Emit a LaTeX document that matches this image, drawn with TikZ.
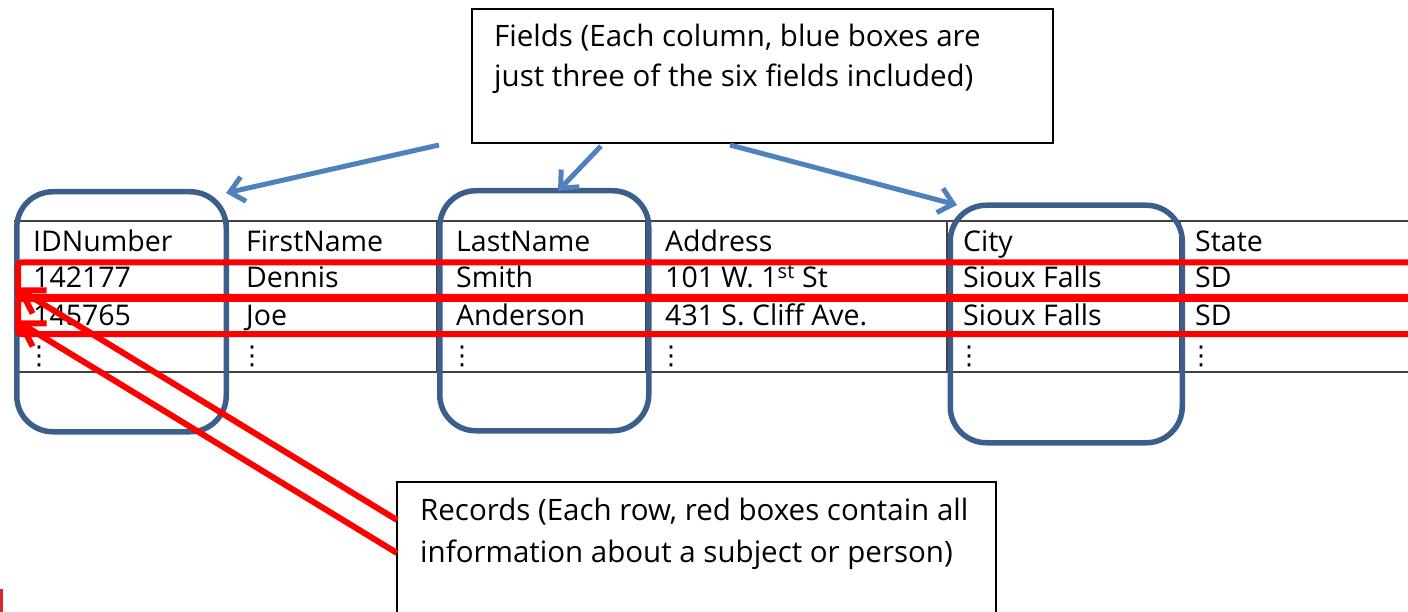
\documentclass[tikz,border=0pt]{standalone}
\usepackage{fontspec}
\setmainfont{Open Sans}
\newfontfamily\dotsfont{DejaVu Sans}
\usetikzlibrary{arrows.meta}
\definecolor{boxblue}{HTML}{3B5E8C}
\definecolor{arrowblue}{HTML}{4F81BD}
\definecolor{markred}{HTML}{D42A2A}
\begin{document}
\begin{tikzpicture}[x=1pt,y=-1pt,
  cell/.style={anchor=base west, inner sep=0pt, font=\fontsize{28.5}{34}\selectfont},
  notetext/.style={anchor=base west, inner sep=0pt, font=\fontsize{29.5}{34}\selectfont},
  vdot/.style={anchor=base west, inner sep=0pt, font=\dotsfont\fontsize{26}{30}\selectfont},
  note/.style={draw=black, line width=2pt, anchor=north west, inner sep=0pt, fill=white},
  fieldbox/.style={draw=boxblue, line width=5.5pt, rounded corners=36pt, anchor=north west, inner sep=0pt},
  recbox/.style={draw=red, line width=6pt, rounded corners=3pt, anchor=north west, inner sep=0pt},
  bluearrow/.style={draw=arrowblue, line width=5pt, -{Straight Barb[length=14pt,width=25pt]}},
  redarrow/.style={draw=red, line width=6pt, -{Straight Barb[length=22pt,width=27pt]}},
  rulestyle/.style={draw=black!75, line width=1.3pt}]
\useasboundingbox (0,0) rectangle (1408,612);
\clip (0,0) rectangle (1408,612);

% table rules
\coordinate (tl) at (14,221);
\coordinate (tr) at (1408,221);
\coordinate (bl) at (14,372);
\coordinate (br) at (1408,372);
\draw[rulestyle] (tl) -- (tr);
\draw[rulestyle] (bl) -- (br);
\foreach \x/\n in {228/a,437/b,646/c,947/d,1180/e}{
  \coordinate (s\n t) at (\x,221);
  \coordinate (s\n b) at (\x,372);
  \draw[rulestyle] (s\n t) -- (s\n b);
}

% table text
\node[cell] (h1) at (33,252) {IDNumber};
\node[cell] (h2) at (246,252) {FirstName};
\node[cell] (h3) at (456,252) {LastName};
\node[cell] (h4) at (665,252) {Address};
\node[cell] (h5) at (963,252) {City};
\node[cell] (h6) at (1195,252) {State};

\node[cell] (r11) at (33,288) {142177};
\node[cell] (r12) at (246,288) {Dennis};
\node[cell] (r13) at (456,288) {Smith};
\node[cell] (r14) at (665,288) {101 W. 1\textsuperscript{st} St};
\node[cell] (r15) at (963,288) {Sioux Falls};
\node[cell] (r16) at (1195,288) {SD};

\node[cell] (r21) at (33,326) {145765};
\node[cell] (r22) at (246,326) {Joe};
\node[cell] (r23) at (456,326) {Anderson};
\node[cell] (r24) at (665,326) {431 S. Cliff Ave.};
\node[cell] (r25) at (963,326) {Sioux Falls};
\node[cell] (r26) at (1195,326) {SD};

\foreach \x/\n in {26/1,239/2,449/3,658/4,956/5,1188/6}{
  \node[vdot] (d\n) at (\x,364) {⋮};
}

% field boxes
\node[fieldbox, minimum width=209.5pt, minimum height=240pt] (idbox) at (14,189) {};
\node[fieldbox, minimum width=209pt, minimum height=240pt] (lnbox) at (437,188) {};
\node[fieldbox, minimum width=232pt, minimum height=237.5pt] (citybox) at (947.5,202.5) {};

% record boxes
\node[recbox, minimum width=1420pt, minimum height=34.5pt] (rec1) at (15,259.5) {};
\node[recbox, minimum width=1420pt, minimum height=35pt] (rec2) at (15,296) {};

% notes
\node[note, minimum width=581pt, minimum height=134pt] (fields) at (471,8) {};
\node[notetext] (ft1) at (494,47) {Fields (Each column, blue boxes are};
\node[notetext] (ft2) at (494,87) {just three of the six fields included)};

\node[note, minimum width=599pt, minimum height=160pt] (records) at (396,481) {};
\node[notetext] (rt1) at (420,520) {Records (Each row, red boxes contain all};
\node[notetext] (rt2) at (420,562) {information about a subject or person)};

% blue arrows
\coordinate (fa1) at (439,145);
\coordinate (fa2) at (601,146);
\coordinate (fa3) at (730,145);
\coordinate (ta1) at (226,193);
\coordinate (ta2) at (558,191);
\coordinate (ta3) at (957,205);
\draw[bluearrow] (fa1) -- (ta1);
\draw[bluearrow] (fa2) -- (ta2);
\draw[bluearrow] (fa3) -- (ta3);

% red arrows
\coordinate (ra1) at (397,520);
\coordinate (ra2) at (397,553);
\coordinate (rt1tip) at (16,287.5);
\coordinate (rt2tip) at (16,320.5);
\draw[redarrow] (ra1) -- (rt1tip);
\draw[redarrow] (ra2) -- (rt2tip);

% small red mark
\fill[markred] (0,589) rectangle (3,612);
\end{tikzpicture}
\end{document}
